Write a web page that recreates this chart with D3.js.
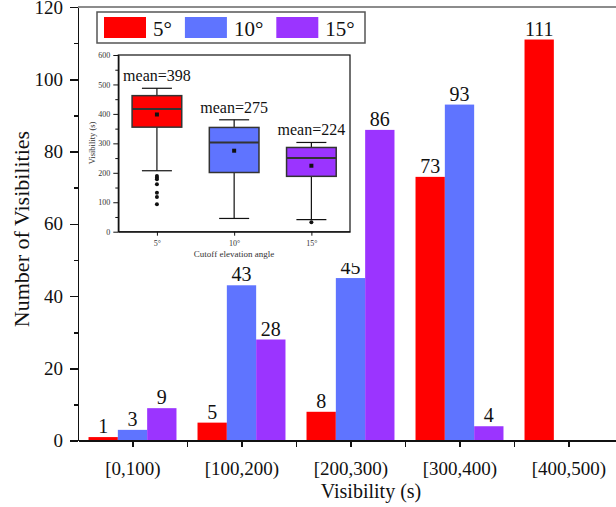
<!DOCTYPE html>
<html>
<head>
<meta charset="utf-8">
<script src="https://cdn.jsdelivr.net/npm/d3@7"></script>
<style>
	body { margin: 0; background: #fff; }
	svg { display: block; font-family: "Liberation Serif", "Times New Roman", serif; }
</style>
</head>
<body>
<svg id="chart"></svg>
<script>

	// main histogram data
	var categories = ['[0,100)', '[100,200)', '[200,300)', '[300,400)', '[400,500)'];
	var angles = ['5°', '10°', '15°'];
	var counts5 = [1, 5, 8, 73, 111];
	var counts10 = [3, 43, 45, 93, null];
	var counts15 = [9, 28, 86, 4, null];
	var yTicks = [0, 20, 40, 60, 80, 100, 120];

	// inset box plot data
	var whiskerLow = [207, 45, 41];
	var q1 = [355, 201, 188];
	var median = [417, 303, 250];
	var q3 = [462, 354, 286];
	var whiskerHigh = [487, 380, 303];
	var means = [398, 275, 224];
	var outliers = [[189, 183, 178, 161, 132, 118, 93], [], [32]];
	var insetTicks = [0, 100, 200, 300, 400, 500, 600];

	var colors = ['#ff0000', '#5f74ff', '#9b34ff'];
	var series = [counts5, counts10, counts15];

	var width = 616,
		height = 507;

	var svg = d3.select("#chart")
		.attr("width", width)
		.attr("height", height);

	var x = d3.scaleLinear()
		.domain([0.5, 5.5])
		.range([78, 623]);

	var y = d3.scaleLinear()
		.domain([0, 120])
		.range([440.7, 7]);

	var groupW = (x(2) - x(1)) * 0.807;

	var inner = d3.scaleBand()
		.domain(angles)
		.range([-groupW / 2, groupW / 2]);

	// top frame line
	svg.append("line")
		.attr("x1", x(0.5))
		.attr("x2", width)
		.attr("y1", y(120))
		.attr("y2", y(120))
		.style("stroke", "#666")
		.style("stroke-width", 1.5);

	// bars
	var groups = svg.selectAll("g.group")
		.data(categories)
		.enter().append("g")
		.attr("class", "group")
		.attr("transform", function(d, i) { return "translate(" + x(i + 1) + ",0)"; });

	groups.each(function(cat, i) {
		var g = d3.select(this);
		var vals = series.map(function(s, k) { return { angle: angles[k], value: s[i], color: colors[k] }; })
			.filter(function(d) { return d.value != null; });

		g.selectAll("rect")
			.data(vals)
			.enter().append("rect")
			.attr("x", function(d) { return inner(d.angle); })
			.attr("width", inner.bandwidth())
			.attr("y", function(d) { return y(d.value); })
			.attr("height", function(d) { return y(0) - y(d.value); })
			.style("fill", function(d) { return d.color; });

		g.selectAll("text")
			.data(vals)
			.enter().append("text")
			.attr("x", function(d) { return inner(d.angle) + inner.bandwidth() / 2; })
			.attr("y", function(d) { return y(d.value) - 4; })
			.style("font-size", "20px")
			.style("text-anchor", "middle")
			.style("fill", "#111")
			.text(function(d) { return d.value; });
	});

	// x axis
	var xAxis = d3.axisBottom(x)
		.tickValues(d3.range(1, 5.51, 0.5))
		.tickSize(6)
		.tickSizeOuter(0)
		.tickPadding(15)
		.tickFormat(function(d) { return d % 1 === 0 ? categories[d - 1] : ""; });

	var gx = svg.append("g")
		.attr("class", "x axis")
		.attr("transform", "translate(0," + y(0) + ")")
		.call(xAxis)
		.attr("font-family", null)
		.attr("font-size", null);

	gx.selectAll("text")
		.style("font-size", "19px")
		.style("fill", "#111");

	// y axis
	var yAxis = d3.axisLeft(y)
		.tickValues(yTicks)
		.tickSize(8)
		.tickSizeOuter(0)
		.tickPadding(7);

	var yMinor = d3.axisLeft(y)
		.tickValues(d3.range(10, 120, 20))
		.tickSize(4)
		.tickSizeOuter(0)
		.tickFormat("");

	svg.append("g")
		.attr("class", "y minor")
		.attr("transform", "translate(" + x(0.5) + ",0)")
		.call(yMinor);

	var gy = svg.append("g")
		.attr("class", "y axis")
		.attr("transform", "translate(" + x(0.5) + ",0)")
		.call(yAxis)
		.attr("font-family", null)
		.attr("font-size", null);

	gy.selectAll("text")
		.style("font-size", "19px")
		.style("fill", "#111");

	svg.selectAll(".axis path, .axis line, .minor line, .minor path")
		.style("stroke", "#111")
		.style("stroke-width", 1.5)
		.style("shape-rendering", "crispEdges");

	// axis titles
	svg.append("text")
		.attr("x", 371)
		.attr("y", 498)
		.style("font-size", "20px")
		.style("text-anchor", "middle")
		.style("fill", "#111")
		.text("Visibility (s)");

	svg.append("text")
		.attr("transform", "translate(29,229) rotate(-90)")
		.style("font-size", "22px")
		.style("text-anchor", "middle")
		.style("fill", "#111")
		.text("Number of Visibilities");

	// legend
	var legend = svg.append("g")
		.attr("class", "legend");

	legend.append("rect")
		.attr("x", 97)
		.attr("y", 12)
		.attr("width", 268)
		.attr("height", 31)
		.style("fill", "#fff")
		.style("stroke", "#555")
		.style("stroke-width", 1.5);

	var lx = 104;
	angles.forEach(function(a, k) {
		legend.append("rect")
			.attr("x", lx)
			.attr("y", 17)
			.attr("width", 42)
			.attr("height", 21)
			.style("fill", colors[k]);

		var t = legend.append("text")
			.attr("x", lx + 49)
			.attr("y", 36)
			.style("font-size", "21px")
			.style("fill", "#111")
			.text(a);

		lx += 49 + t.node().getComputedTextLength() + 13;
	});

	// inset box plot
	var ix = d3.scaleLinear()
		.domain([0.5, 3.5])
		.range([118.3, 350]);

	var iy = d3.scaleLinear()
		.domain([0, 600])
		.range([231.7, 55]);

	var inset = svg.append("g")
		.attr("class", "inset");

	inset.append("rect")
		.attr("x", 88)
		.attr("y", 48)
		.attr("width", 272)
		.attr("height", 215)
		.style("fill", "#fff");

	inset.append("rect")
		.attr("x", ix(0.5))
		.attr("y", iy(600))
		.attr("width", ix(3.5) - ix(0.5))
		.attr("height", iy(0) - iy(600))
		.style("fill", "none")
		.style("stroke", "#111")
		.style("stroke-width", 1.2);

	var iyAxis = d3.axisLeft(iy)
		.tickValues(insetTicks)
		.tickSize(5)
		.tickSizeOuter(0)
		.tickPadding(3);

	var iyMinor = d3.axisLeft(iy)
		.tickValues(d3.range(50, 600, 100))
		.tickSize(3)
		.tickSizeOuter(0)
		.tickFormat("");

	var ixAxis = d3.axisBottom(ix)
		.tickValues([1, 2, 3])
		.tickSize(4)
		.tickSizeOuter(0)
		.tickPadding(5)
		.tickFormat(function(d) { return angles[d - 1]; });

	inset.append("g")
		.attr("class", "iminor")
		.attr("transform", "translate(" + ix(0.5) + ",0)")
		.call(iyMinor);

	inset.append("g")
		.attr("class", "iaxis")
		.attr("transform", "translate(" + ix(0.5) + ",0)")
		.call(iyAxis);

	inset.append("g")
		.attr("class", "iaxis")
		.attr("transform", "translate(0," + iy(0) + ")")
		.call(ixAxis);

	inset.selectAll(".iaxis")
		.attr("font-family", null)
		.attr("font-size", null);

	inset.selectAll(".iaxis text")
		.style("font-size", "8px")
		.style("fill", "#333");

	inset.selectAll(".iaxis path, .iaxis line, .iminor path, .iminor line")
		.style("stroke", "#111")
		.style("stroke-width", 1);

	inset.append("text")
		.attr("x", 234)
		.attr("y", 257)
		.style("font-size", "9px")
		.style("text-anchor", "middle")
		.style("fill", "#333")
		.text("Cutoff  elevation angle");

	inset.append("text")
		.attr("transform", "translate(95,143) rotate(-90)")
		.style("font-size", "8.5px")
		.style("text-anchor", "middle")
		.style("fill", "#333")
		.text("Visibility (s)");

	var boxW = (ix(2) - ix(1)) * 0.643,
		capW = 30;

	angles.forEach(function(a, k) {
		var cx = ix(k + 1);
		var b = inset.append("g").attr("class", "box");

		b.append("line")
			.attr("x1", cx).attr("x2", cx)
			.attr("y1", iy(whiskerLow[k])).attr("y2", iy(whiskerHigh[k]))
			.style("stroke", "#111")
			.style("stroke-width", 1.2);

		[whiskerLow[k], whiskerHigh[k]].forEach(function(v) {
			b.append("line")
				.attr("x1", cx - capW / 2).attr("x2", cx + capW / 2)
				.attr("y1", iy(v)).attr("y2", iy(v))
				.style("stroke", "#111")
				.style("stroke-width", 1.2);
		});

		b.append("rect")
			.attr("x", cx - boxW / 2)
			.attr("y", iy(q3[k]))
			.attr("width", boxW)
			.attr("height", iy(q1[k]) - iy(q3[k]))
			.style("fill", colors[k])
			.style("stroke", "#333")
			.style("stroke-width", 1.5);

		b.append("line")
			.attr("x1", cx - boxW / 2).attr("x2", cx + boxW / 2)
			.attr("y1", iy(median[k])).attr("y2", iy(median[k]))
			.style("stroke", "#333")
			.style("stroke-width", 2);

		b.append("rect")
			.attr("x", cx - 2)
			.attr("y", iy(means[k]) - 2)
			.attr("width", 4)
			.attr("height", 4)
			.style("fill", "#111");

		b.selectAll("circle")
			.data(outliers[k])
			.enter().append("circle")
			.attr("cx", cx)
			.attr("cy", function(d) { return iy(d); })
			.attr("r", 2)
			.style("fill", "#111");

		b.append("text")
			.attr("x", cx)
			.attr("y", iy(whiskerHigh[k]) - 7)
			.style("font-size", "16px")
			.style("text-anchor", "middle")
			.style("fill", "#111")
			.text("mean=" + means[k]);
	});

</script>
</body>
</html>
